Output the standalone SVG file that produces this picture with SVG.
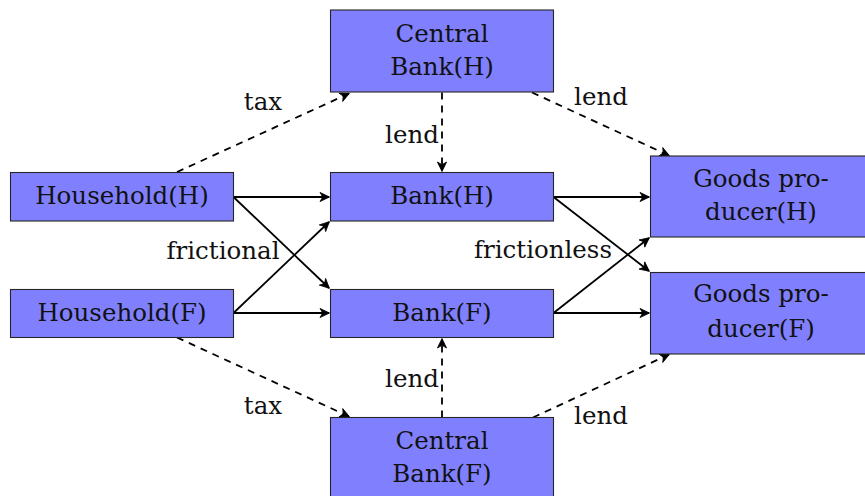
<svg xmlns="http://www.w3.org/2000/svg" width="865" height="496" viewBox="0 0 865 496">
<style>
.box{fill:#8080ff;stroke:#262626;stroke-width:1.1}
.t{font-family:"DejaVu Serif",serif;font-size:24.5px;fill:#111;text-anchor:middle}
.e{fill:none;stroke:#000;stroke-width:1.8}
.d{stroke-dasharray:7 6}
</style>
<defs>
<marker id="ar" markerUnits="userSpaceOnUse" markerWidth="14" markerHeight="14" viewBox="-12 -7 14 14" refX="0" refY="0" orient="auto">
<path d="M0.5,0 L-9,-4.6 L-6.3,0 L-9,4.6 Z" fill="#000" stroke="#000" stroke-width="0.8" stroke-linejoin="miter"/>
</marker>
</defs>
<rect width="865" height="496" fill="#fff"/>
<g id="connectors">
<path class="e d" d="M177,172 L349,93.5" marker-end="url(#ar)"/>
<path class="e d" d="M442,92.5 L442,171" marker-end="url(#ar)"/>
<path class="e d" d="M532,92.5 L669,155.5" marker-end="url(#ar)"/>
<path class="e" d="M233.5,197 L329,197" marker-end="url(#ar)"/>
<path class="e" d="M233.5,197 L329,288" marker-end="url(#ar)"/>
<path class="e" d="M233.5,313 L329,222" marker-end="url(#ar)"/>
<path class="e" d="M233.5,313 L329,313" marker-end="url(#ar)"/>
<path class="e" d="M553.5,197 L649,197" marker-end="url(#ar)"/>
<path class="e" d="M553.5,197 L649,271" marker-end="url(#ar)"/>
<path class="e" d="M553.5,313 L649,238" marker-end="url(#ar)"/>
<path class="e" d="M553.5,313 L649,313" marker-end="url(#ar)"/>
<path class="e d" d="M442,417.5 L442,339" marker-end="url(#ar)"/>
<path class="e d" d="M533,417.5 L669,354.5" marker-end="url(#ar)"/>
<path class="e d" d="M177,337.5 L349,416.5" marker-end="url(#ar)"/>
<text class="t" x="263" y="110">tax</text>
<text class="t" x="412" y="143">lend</text>
<text class="t" x="601" y="105">lend</text>
<text class="t" x="223" y="259">frictional</text>
<text class="t" x="543" y="258">frictionless</text>
<text class="t" x="412" y="387">lend</text>
<text class="t" x="263" y="414">tax</text>
<text class="t" x="601" y="424">lend</text>
</g>
<g id="cbh">
<rect class="box" x="330.5" y="10" width="223" height="82"/>
<text class="t" x="442" y="41.5">Central</text>
<text class="t" x="442" y="74.5">Bank(H)</text>
</g>
<g id="hh">
<rect class="box" x="10.5" y="172.5" width="223" height="48.5"/>
<text class="t" x="122" y="204">Household(H)</text>
</g>
<g id="bh">
<rect class="box" x="330.5" y="172.5" width="223" height="48.5"/>
<text class="t" x="442" y="204">Bank(H)</text>
</g>
<g id="gh">
<rect class="box" x="650.5" y="156" width="222" height="81"/>
<text class="t" x="761" y="187">Goods pro-</text>
<text class="t" x="761" y="220">ducer(H)</text>
</g>
<g id="hf">
<rect class="box" x="10.5" y="289.5" width="223" height="48"/>
<text class="t" x="122" y="321">Household(F)</text>
</g>
<g id="bf">
<rect class="box" x="330.5" y="289.5" width="223" height="48"/>
<text class="t" x="442" y="321">Bank(F)</text>
</g>
<g id="gf">
<rect class="box" x="650.5" y="272.5" width="222" height="81.5"/>
<text class="t" x="761" y="302">Goods pro-</text>
<text class="t" x="761" y="337">ducer(F)</text>
</g>
<g id="cbf">
<rect class="box" x="330.5" y="417.5" width="223" height="82"/>
<text class="t" x="442" y="448.5">Central</text>
<text class="t" x="442" y="482">Bank(F)</text>
</g>
</svg>
